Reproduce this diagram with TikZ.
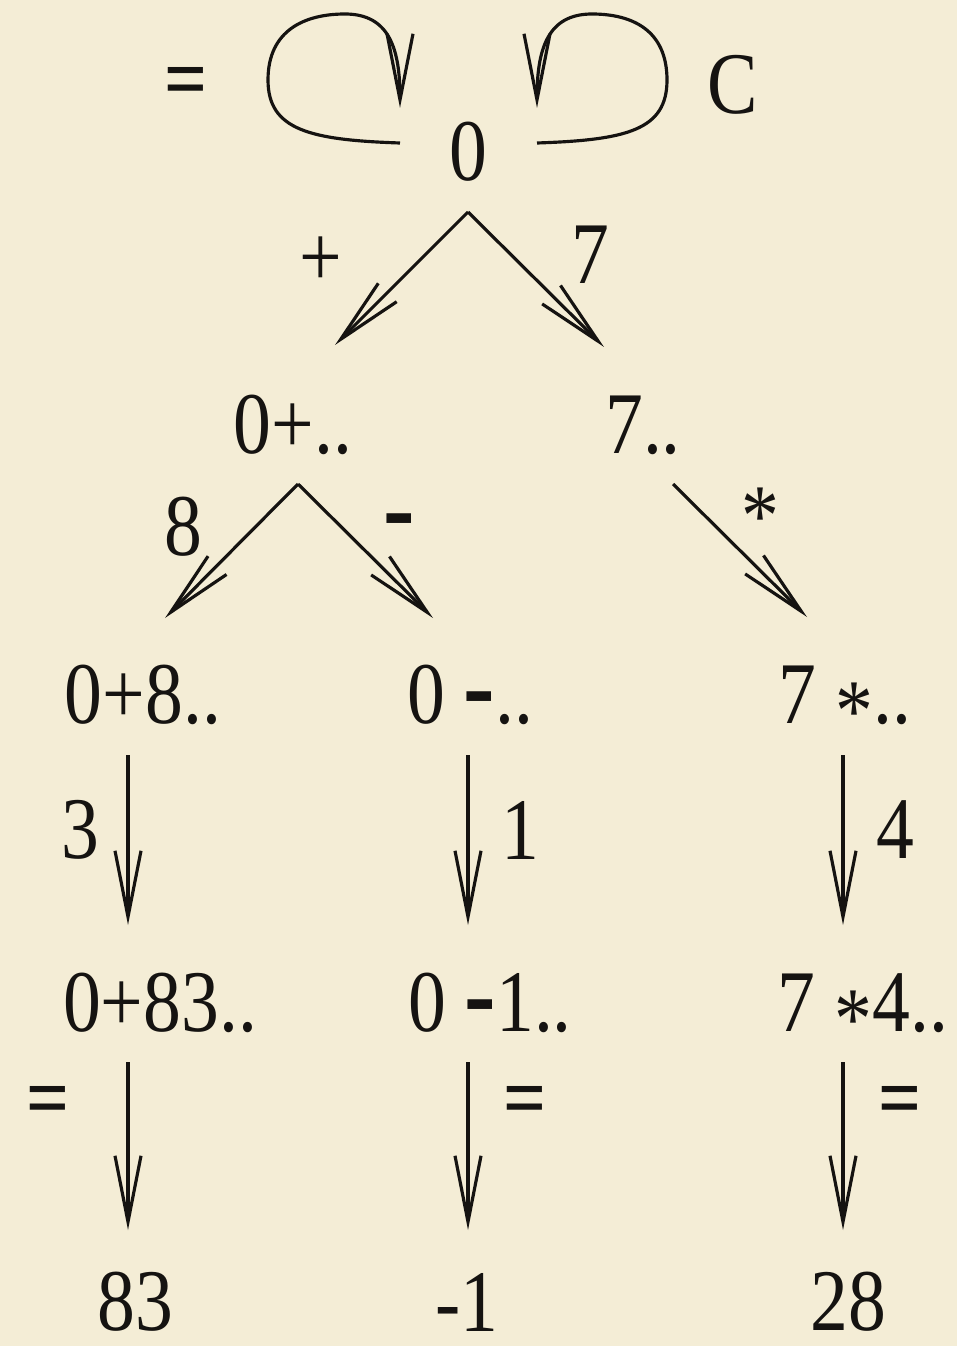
\documentclass[tikz,border=0pt]{standalone}
\usepackage{fontspec}
\setmainfont{Liberation Serif}[FakeStretch=0.86]
\usepackage{graphicx}
\usepackage{tikz}
\usetikzlibrary{arrows.meta}
\usepackage{xcolor}
\definecolor{fparch}{RGB}{244,237,214}
\definecolor{fink}{HTML}{151311}
\newcommand{\hdash}{\textbf{\scalebox{1.25}[1.3]{-}}}
\newcommand{\midast}{\raisebox{-0.2em}[0pt][0pt]{*}}

\begin{document}
\begin{tikzpicture}[x=0.01cm,y=-0.01cm,
  every node/.style={inner sep=0pt,text=fink,font=\fontsize{25}{30}\selectfont},
  arr/.style={-{Straight Barb[length=6.6mm,width=2.6mm]},line width=0.9pt,draw=fink}]
\fill[fparch] (0,0) rectangle (957,1346);
\useasboundingbox (0,0) rectangle (957,1346);
% start state and its two self loops
\node (n0) at (468,152) {0};
\node (lEq) at (186,88) {\textbf{=}};
\node (lC) at (733,85) {C};
\coordinate (loopLs) at (400,143);
\coordinate (loopLe) at (400,108);
\coordinate (loopRs) at (537,143);
\coordinate (loopRe) at (537,108);
\draw[arr] (loopLs) .. controls (310,140) and (268,130) .. (268,80)
  .. controls (268,30) and (305,14) .. (345,14)
  .. controls (390,14) and (400,50) .. (loopLe);
\draw[arr] (loopRs) .. controls (627,140) and (667,130) .. (667,80)
  .. controls (667,30) and (632,14) .. (592,14)
  .. controls (547,14) and (537,50) .. (loopRe);
% first split: operator or digit
\coordinate (s0) at (468,212);
\coordinate (ePlus) at (335,345);
\coordinate (eSeven) at (604,347);
\draw[arr] (s0) -- (ePlus);
\draw[arr] (s0) -- (eSeven);
\node (lPlus) at (321,262) {+};
\node (lSeven) at (590,255) {7};
\node (nPlus) at (293,425) {0+..};
\node (nSeven) at (643,425) {7..};
% second split
\coordinate (sPlus) at (298,484);
\coordinate (eEight) at (165,618);
\coordinate (eMinus) at (433,618);
\coordinate (sSeven) at (673,484);
\coordinate (eTimes) at (807,617);
\draw[arr] (sPlus) -- (eEight);
\draw[arr] (sPlus) -- (eMinus);
\draw[arr] (sSeven) -- (eTimes);
\node (lEight) at (183,527) {8};
\node (lMinus) at (399,530) {\hdash};
\node (lTimes) at (760,517) {*};
\node (nEight) at (143,695) {0+8..};
\node (nMinus) at (470,695) {0 \hdash..};
\node (nTimes) at (845,695) {7 \midast..};
% second operand
\coordinate (tA) at (128,755);  \coordinate (bA) at (128,925);
\coordinate (tB) at (468,755);  \coordinate (bB) at (468,925);
\coordinate (tC) at (843,755);  \coordinate (bC) at (843,925);
\draw[arr] (tA) -- (bA);
\draw[arr] (tB) -- (bB);
\draw[arr] (tC) -- (bC);
\node (lThree) at (80,830) {3};
\node (lOne) at (520,830) {1};
\node (lFour) at (895,830) {4};
\node (nEightThree) at (160,1003) {0+83..};
\node (nMinusOne) at (490,1003) {0 \hdash1..};
\node (nTimesFour) at (863,1003) {7 \midast4..};
% evaluate
\coordinate (uA) at (128,1062); \coordinate (vA) at (128,1230);
\coordinate (uB) at (468,1062); \coordinate (vB) at (468,1230);
\coordinate (uC) at (843,1062); \coordinate (vC) at (843,1230);
\draw[arr] (uA) -- (vA);
\draw[arr] (uB) -- (vB);
\draw[arr] (uC) -- (vC);
\node (lEqA) at (48,1107) {\textbf{=}};
\node (lEqB) at (525,1107) {\textbf{=}};
\node (lEqC) at (900,1107) {\textbf{=}};
\node (rA) at (135,1302) {83};
\node (rB) at (467,1302) {-1};
\node (rC) at (848,1302) {28};
\end{tikzpicture}
\end{document}
